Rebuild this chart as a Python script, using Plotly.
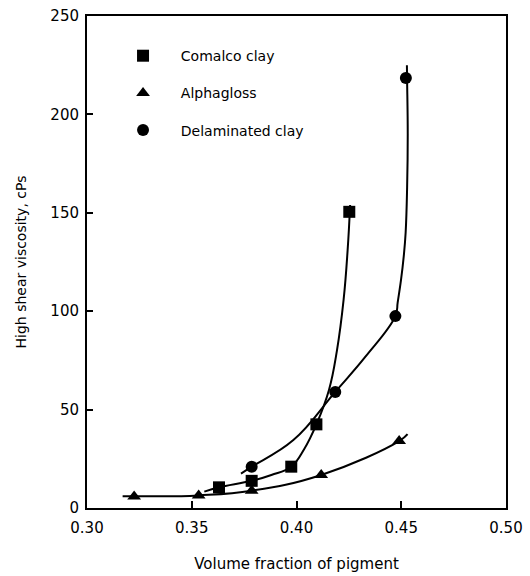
import plotly.graph_objects as go

# Measured data points
comalco_x = [0.363, 0.3786, 0.3975, 0.4095, 0.4252]
comalco_y = [10.5, 13.8, 21.0, 42.5, 150.5]
alpha_x = [0.3225, 0.3533, 0.3786, 0.4118, 0.449]
alpha_y = [5.9, 6.4, 8.8, 16.8, 34.0]
delam_x = [0.3786, 0.4185, 0.4472, 0.4522]
delam_y = [21.0, 59.0, 97.5, 218.5]

# Fitted curves
comalco_cx = [0.356, 0.363, 0.3786, 0.388, 0.3975, 0.4037, 0.4095, 0.4155, 0.4193, 0.4225, 0.4244, 0.4256]
comalco_cy = [8.3, 10.5, 13.8, 16.8, 21.0, 30.0, 42.5, 60.0, 80.0, 106.0, 131.0, 154.0]
alpha_cx = [0.317, 0.3434, 0.3533, 0.3786, 0.4118, 0.449, 0.453]
alpha_cy = [6.0, 6.0, 6.4, 8.8, 16.8, 34.0, 37.5]
delam_cx = [0.3735, 0.3786, 0.3985, 0.4185, 0.433, 0.4472, 0.4483, 0.4499, 0.4512, 0.4521, 0.4528, 0.4531, 0.4528, 0.4527]
delam_cy = [17.5, 21.0, 34.5, 59.0, 77.0, 97.5, 104.5, 116.0, 128.0, 140.0, 163.0, 190.0, 217.0, 225.0]

names = ["Comalco clay", "Alphagloss", "Delaminated clay"]
symbols = ["square", "triangle-up", "circle"]
pad = "\u00a0" * 4

FONT = "DejaVu Sans"

fig = go.Figure()
curves = [(comalco_cx, comalco_cy), (alpha_cx, alpha_cy), (delam_cx, delam_cy)]
points = [(comalco_x, comalco_y), (alpha_x, alpha_y), (delam_x, delam_y)]
for (cx, cy) in curves:
    fig.add_trace(go.Scatter(x=cx, y=cy, mode="lines", showlegend=False,
                             line=dict(color="black", width=2, shape="spline", smoothing=1.2),
                             hoverinfo="skip"))
for i, (px, py) in enumerate(points):
    fig.add_trace(go.Scatter(x=px, y=py, mode="markers", name=pad + names[i], legendgroup=names[i],
                             marker=dict(symbol=symbols[i], size=12, color="black")))

axis_common = dict(showline=True, linecolor="black", linewidth=2, mirror=True,
                   ticks="inside", tickcolor="black", tickwidth=1.5, showgrid=False,
                   zeroline=False, automargin=False,
                   tickfont=dict(family=FONT, size=15, color="black"))

fig.update_layout(
    width=530, height=576,
    margin=dict(l=87, r=24, t=16, b=68),
    plot_bgcolor="white", paper_bgcolor="white",
    font=dict(family=FONT, color="black"),
    xaxis=dict(range=[0.30, 0.50], tickvals=[0.30, 0.35, 0.40, 0.45, 0.50],
               ticktext=["0.30", "0.35", "0.40", "0.45", "0.50"], ticklen=7,
               ticklabelstandoff=5,
               title=dict(text="Volume fraction of pigment", font=dict(family=FONT, size=15), standoff=22),
               **axis_common),
    yaxis=dict(range=[0, 250], tickvals=[0, 50, 100, 150, 200, 250], ticklen=6,
               ticklabelstandoff=3,
               title=dict(text="High shear viscosity, cPs", font=dict(family=FONT, size=14), standoff=20),
               **axis_common),
    legend=dict(x=0.086, y=0.951, xanchor="left", yanchor="top",
                font=dict(family=FONT, size=14, color="black"),
                tracegroupgap=16, bgcolor="rgba(0,0,0,0)"),
)

fig.write_html("out.html")
